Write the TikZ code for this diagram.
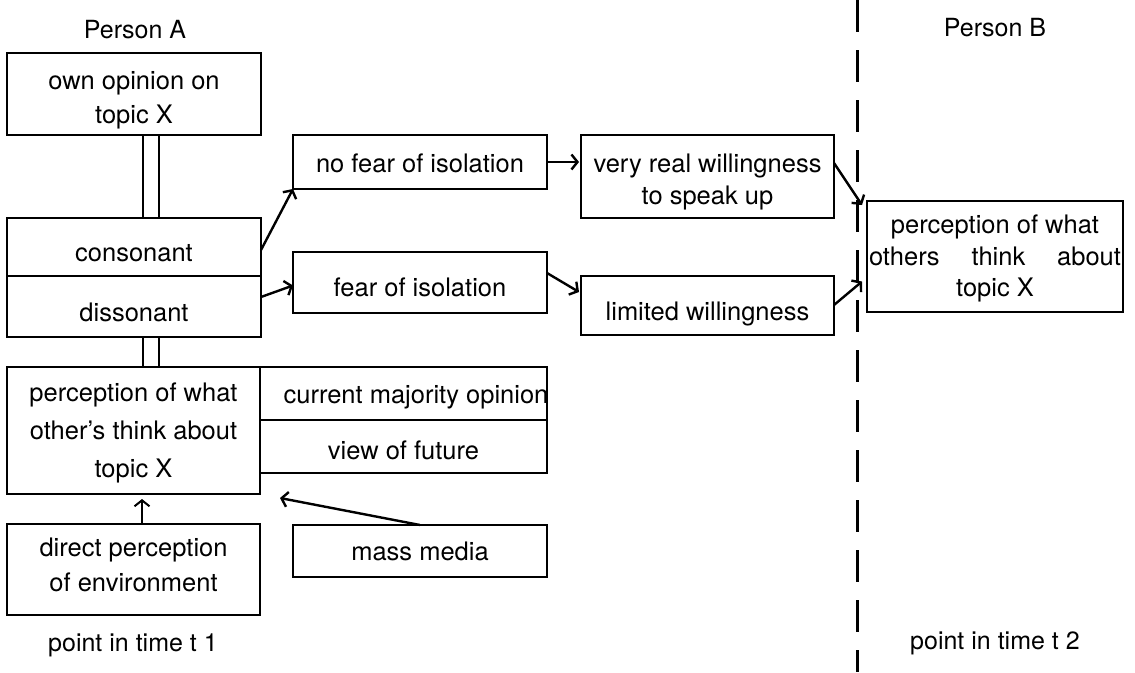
\documentclass[tikz,border=0pt]{standalone}
\usepackage{fontspec}
\setmainfont{TeX Gyre Heros}
\usetikzlibrary{arrows.meta}
\begin{document}
\begin{tikzpicture}[x=1pt,y=-1pt,
  bx/.style={draw, line width=1.8pt, inner sep=0pt, outer sep=0pt},
  tx/.style={inner sep=0pt, align=center, font=\fontsize{25.5}{34}\selectfont},
  lbl/.style={inner sep=0pt, font=\fontsize{25}{30}\selectfont},
  arr/.style={line width=2.4pt, -{Straight Barb[length=6pt,width=15pt]}},
  dbl/.style={line width=1.8pt},
  sep/.style={line width=3pt, dash pattern=on 32pt off 18pt}]
\useasboundingbox (0,0) rectangle (1135,672);
% Person A column
\node[lbl] (pA) at (135,30) {Person A};
\node[bx, minimum width=254pt, minimum height=82pt] (own) at (134,94) {};
\node[tx, font=\fontsize{25.5}{34}\selectfont, yshift=-6pt] (ownT) at (own) {own\ opinion\ on\\topic X};
\node[bx, minimum width=254pt, minimum height=58pt] (cons) at (134,247) {};
\node[tx, yshift=-6pt] (consT) at (cons) {consonant};
\node[bx, minimum width=254pt, minimum height=61pt] (diss) at (134,306.5) {};
\node[tx, yshift=-6pt] (dissT) at (diss) {dissonant};
\node[bx, minimum width=253pt, minimum height=127pt] (percA) at (133.5,430.5) {};
\node[tx, font=\fontsize{25.5}{38}\selectfont, yshift=-2pt] (percAT) at (percA) {perception of what\\other's think about\\topic X};
\node[bx, minimum width=287pt, minimum height=53pt] (cur) at (403.5,393.5) {};
\node[tx, xshift=12.5pt, yshift=-4pt] (curT) at (cur) {current majority opinion};
\node[bx, minimum width=287pt, minimum height=53pt] (view) at (403.5,446.5) {};
\node[tx, yshift=-4pt] (viewT) at (view) {view of future};
\node[bx, minimum width=253pt, minimum height=91pt] (direct) at (133.5,569.5) {};
\node[tx, font=\fontsize{25.5}{35}\selectfont, yshift=5pt] (directT) at (direct) {direct perception\\of environment};
\node[bx, minimum width=254pt, minimum height=52pt] (media) at (420,551) {};
\node[tx] (mediaT) at (media) {mass media};
\node[lbl] (t1) at (133,645) {point in time t 1};
% middle
\node[bx, minimum width=254pt, minimum height=54pt] (nofear) at (420,162) {};
\node[tx, yshift=-1pt] (nofearT) at (nofear) {no\ fear\ of\ isolation};
\node[bx, minimum width=254pt, minimum height=61pt] (fear) at (420,282.5) {};
\node[tx, yshift=-5pt] (fearT) at (fear) {fear of isolation};
\node[bx, minimum width=253pt, minimum height=83pt] (veryreal) at (707.5,176.5) {};
\node[tx, font=\fontsize{25.5}{32}\selectfont, yshift=-5pt] (veryrealT) at (veryreal) {very real willingness\\to speak up};
\node[bx, minimum width=253pt, minimum height=59pt] (limited) at (707.5,305.5) {};
\node[tx, yshift=-8pt] (limitedT) at (limited) {limited willingness};
% Person B
\node[lbl] (pB) at (995,28) {Person B};
\node[bx, minimum width=256pt, minimum height=111pt] (percB) at (995,256.5) {};
\node[tx, font=\fontsize{25.5}{31.5}\selectfont, yshift=-2pt] (percBT) at (percB) {perception of what\\\makebox[252pt][s]{others think about}\\topic X};
\node[lbl] (t2) at (995,643) {point in time t 2};
% separator
\coordinate (stop) at (857,0);
\coordinate (sbot) at (857,672);
\draw[sep] (stop) -- (sbot);
% double links
\draw[dbl] ([xshift=9pt]own.south) -- ([xshift=9pt]own.south |- cons.north);
\draw[dbl] ([xshift=25pt]own.south) -- ([xshift=25pt]own.south |- cons.north);
\draw[dbl] ([xshift=9pt]diss.south) -- ([xshift=9pt]diss.south |- percA.north);
\draw[dbl] ([xshift=25pt]diss.south) -- ([xshift=25pt]diss.south |- percA.north);
% arrows
\draw[arr] ([yshift=-3pt]cons.east) -- (nofear.south west);
\draw[arr] ([yshift=9.5pt]diss.east) -- ([yshift=-3pt]fear.west);
\draw[arr] (nofear.east) -- ([xshift=-2pt]veryreal.west |- nofear.east);
\draw[arr] ([yshift=9.5pt]fear.east) -- ([xshift=-2pt,yshift=13.5pt]limited.west);
\draw[arr] ([yshift=13.5pt]veryreal.east) -- ([xshift=-5pt,yshift=-4pt]percB.north west);
\draw[arr] ([yshift=0.5pt]limited.east) -- ([xshift=-5pt,yshift=-25pt]percB.west);
\draw[arr, line width=2pt, shorten >=5pt] ([xshift=8.5pt]direct.north) -- ([xshift=8.5pt]percA.south);
\draw[arr] (media.north) -- ([xshift=20pt,yshift=-4pt]percA.south east);
\end{tikzpicture}
\end{document}
